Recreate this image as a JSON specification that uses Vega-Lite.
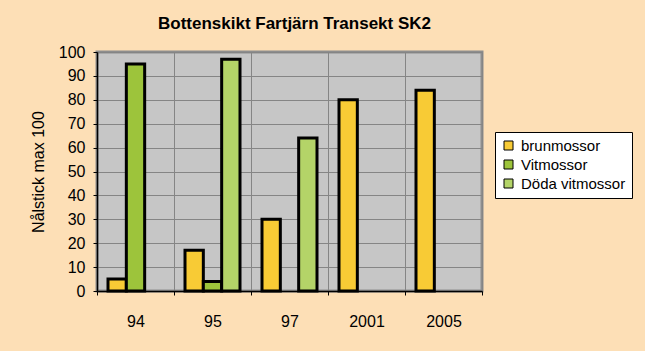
{
  "$schema": "https://vega.github.io/schema/vega-lite/v6.json",
  "width": 385,
  "height": 239,
  "autosize": {"type": "none"},
  "padding": {"left": 97, "top": 52, "right": 163, "bottom": 60},
  "background": "#FDDFB6",
  "title": {
    "text": "Bottenskikt Fartjärn Transekt SK2",
    "font": "Liberation Sans",
    "fontSize": 17,
    "fontWeight": "bold",
    "color": "#000000",
    "anchor": "middle",
    "frame": "group",
    "dx": 5,
    "offset": 11
  },
  "data": {
    "values": [
      {"year": "94", "series": "brunmossor", "value": 5},
      {"year": "94", "series": "Vitmossor", "value": 95},
      {"year": "95", "series": "brunmossor", "value": 17},
      {"year": "95", "series": "Vitmossor", "value": 4},
      {"year": "95", "series": "Döda vitmossor", "value": 97},
      {"year": "97", "series": "brunmossor", "value": 30},
      {"year": "97", "series": "Döda vitmossor", "value": 64},
      {"year": "2001", "series": "brunmossor", "value": 80},
      {"year": "2005", "series": "brunmossor", "value": 84}
    ]
  },
  "mark": {"type": "bar", "stroke": "#000000", "strokeWidth": 3, "strokeJoin": "miter"},
  "encoding": {
    "x": {
      "field": "year",
      "type": "nominal",
      "sort": ["94", "95", "97", "2001", "2005"],
      "scale": {"paddingInner": 0, "paddingOuter": 0},
      "axis": {
        "title": null,
        "labelAngle": 0,
        "labelFont": "Liberation Sans",
        "labelFontSize": 16,
        "labelColor": "#000000",
        "labelPadding": 18,
        "tickBand": "extent",
        "tickSize": 4,
        "tickColor": "#000000",
        "domainColor": "#000000",
        "domainWidth": 1.5,
        "grid": true,
        "gridColor": "#858585",
        "gridWidth": 1
      }
    },
    "xOffset": {
      "field": "series",
      "type": "nominal",
      "sort": ["brunmossor", "Vitmossor", "Döda vitmossor"],
      "scale": {"domain": ["brunmossor", "Vitmossor", "Döda vitmossor"], "paddingInner": 0, "paddingOuter": 0.6}
    },
    "y": {
      "field": "value",
      "type": "quantitative",
      "scale": {"domain": [0, 100], "nice": false},
      "axis": {
        "title": "Nålstick max 100",
        "titleFont": "Liberation Sans",
        "titleFontSize": 16,
        "titleFontWeight": "normal",
        "titleColor": "#000000",
        "titlePadding": 12,
        "values": [0, 10, 20, 30, 40, 50, 60, 70, 80, 90, 100],
        "labelFont": "Liberation Sans",
        "labelFontSize": 16,
        "labelColor": "#000000",
        "labelPadding": 8,
        "tickSize": 4,
        "tickColor": "#000000",
        "domainColor": "#000000",
        "domainWidth": 1.5,
        "grid": true,
        "gridColor": "#858585",
        "gridWidth": 1
      }
    },
    "color": {
      "field": "series",
      "type": "nominal",
      "sort": ["brunmossor", "Vitmossor", "Döda vitmossor"],
      "scale": {"domain": ["brunmossor", "Vitmossor", "Döda vitmossor"], "range": ["#F8CB35", "#9DC43B", "#B4D468"]},
      "legend": {
        "title": null,
        "orient": "none",
        "legendX": 398,
        "legendY": 80,
        "fillColor": "#FFFFFF",
        "strokeColor": "#000000",
        "padding": 6,
        "rowPadding": 3,
        "symbolType": "square",
        "symbolSize": 81,
        "symbolStrokeColor": "#000000",
        "symbolStrokeWidth": 1,
        "symbolOpacity": 1,
        "labelFont": "Liberation Sans",
        "labelFontSize": 15,
        "labelColor": "#000000",
        "labelOffset": 5
      }
    }
  },
  "config": {
    "view": {"fill": "#C6C6C6", "stroke": "#8E8E8E", "strokeWidth": 3}
  }
}
